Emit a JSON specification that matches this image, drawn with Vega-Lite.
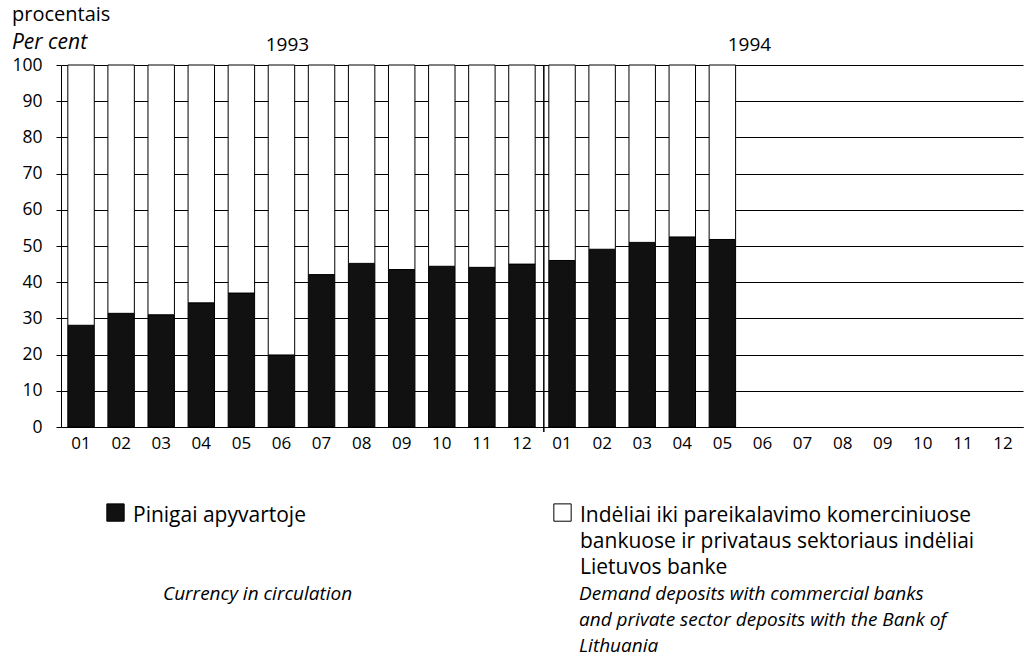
{
  "$schema": "https://vega.github.io/schema/vega-lite/v6.json",
  "width": 962,
  "height": 362,
  "padding": {"left": 11, "top": 5, "right": 2, "bottom": 50},
  "background": "white",
  "config": {
    "view": {"stroke": null},
    "font": "Open Sans",
    "text": {"font": "Open Sans"},
    "style": {"guide-label": {"lineHeight": 26}},
    "axisY": {
      "tickCount": 10,
      "grid": true,
      "gridColor": "black",
      "gridWidth": 1,
      "gridOpacity": 1,
      "domainColor": "black",
      "tickColor": "black",
      "tickSize": 5,
      "labelColor": "black",
      "labelFontSize": 17.5,
      "labelFont": "Open Sans",
      "labelPadding": 14
    }
  },
  "title": {
    "text": "procentais",
    "subtitle": "Per cent",
    "anchor": "start",
    "frame": "bounds",
    "font": "Open Sans",
    "fontSize": 20,
    "fontWeight": "normal",
    "color": "black",
    "subtitleFont": "Open Sans",
    "subtitleFontSize": 21,
    "subtitleFontStyle": "italic",
    "subtitleColor": "black",
    "subtitlePadding": 7,
    "offset": -17
  },
  "data": {
    "values": [
      {"m": "1993-01", "series": "Pinigai apyvartoje", "en": "Currency in circulation", "v": 28.1},
      {"m": "1993-02", "series": "Pinigai apyvartoje", "en": "Currency in circulation", "v": 31.4},
      {"m": "1993-03", "series": "Pinigai apyvartoje", "en": "Currency in circulation", "v": 31.0},
      {"m": "1993-04", "series": "Pinigai apyvartoje", "en": "Currency in circulation", "v": 34.3},
      {"m": "1993-05", "series": "Pinigai apyvartoje", "en": "Currency in circulation", "v": 37.0},
      {"m": "1993-06", "series": "Pinigai apyvartoje", "en": "Currency in circulation", "v": 19.9},
      {"m": "1993-07", "series": "Pinigai apyvartoje", "en": "Currency in circulation", "v": 42.1},
      {"m": "1993-08", "series": "Pinigai apyvartoje", "en": "Currency in circulation", "v": 45.2},
      {"m": "1993-09", "series": "Pinigai apyvartoje", "en": "Currency in circulation", "v": 43.5},
      {"m": "1993-10", "series": "Pinigai apyvartoje", "en": "Currency in circulation", "v": 44.4},
      {"m": "1993-11", "series": "Pinigai apyvartoje", "en": "Currency in circulation", "v": 44.1},
      {"m": "1993-12", "series": "Pinigai apyvartoje", "en": "Currency in circulation", "v": 45.0},
      {"m": "1994-01", "series": "Pinigai apyvartoje", "en": "Currency in circulation", "v": 46.0},
      {"m": "1994-02", "series": "Pinigai apyvartoje", "en": "Currency in circulation", "v": 49.1},
      {"m": "1994-03", "series": "Pinigai apyvartoje", "en": "Currency in circulation", "v": 51.0},
      {"m": "1994-04", "series": "Pinigai apyvartoje", "en": "Currency in circulation", "v": 52.5},
      {"m": "1994-05", "series": "Pinigai apyvartoje", "en": "Currency in circulation", "v": 51.8},
      {"m": "1993-01", "series": "Indėliai", "en": "Demand deposits", "v": 71.9},
      {"m": "1993-02", "series": "Indėliai", "en": "Demand deposits", "v": 68.6},
      {"m": "1993-03", "series": "Indėliai", "en": "Demand deposits", "v": 69.0},
      {"m": "1993-04", "series": "Indėliai", "en": "Demand deposits", "v": 65.7},
      {"m": "1993-05", "series": "Indėliai", "en": "Demand deposits", "v": 63.0},
      {"m": "1993-06", "series": "Indėliai", "en": "Demand deposits", "v": 80.1},
      {"m": "1993-07", "series": "Indėliai", "en": "Demand deposits", "v": 57.9},
      {"m": "1993-08", "series": "Indėliai", "en": "Demand deposits", "v": 54.8},
      {"m": "1993-09", "series": "Indėliai", "en": "Demand deposits", "v": 56.5},
      {"m": "1993-10", "series": "Indėliai", "en": "Demand deposits", "v": 55.6},
      {"m": "1993-11", "series": "Indėliai", "en": "Demand deposits", "v": 55.9},
      {"m": "1993-12", "series": "Indėliai", "en": "Demand deposits", "v": 55.0},
      {"m": "1994-01", "series": "Indėliai", "en": "Demand deposits", "v": 54.0},
      {"m": "1994-02", "series": "Indėliai", "en": "Demand deposits", "v": 50.9},
      {"m": "1994-03", "series": "Indėliai", "en": "Demand deposits", "v": 49.0},
      {"m": "1994-04", "series": "Indėliai", "en": "Demand deposits", "v": 47.5},
      {"m": "1994-05", "series": "Indėliai", "en": "Demand deposits", "v": 48.2}
    ]
  },
  "encoding": {
    "x": {
      "field": "m",
      "type": "ordinal",
      "scale": {
        "domain": ["1993-01","1993-02","1993-03","1993-04","1993-05","1993-06","1993-07","1993-08","1993-09","1993-10","1993-11","1993-12","1994-01","1994-02","1994-03","1994-04","1994-05","1994-06","1994-07","1994-08","1994-09","1994-10","1994-11","1994-12"],
        "paddingInner": 0.34,
        "paddingOuter": 0.17
      },
      "axis": {
        "title": null,
        "labelExpr": "substring(datum.value, 5)",
        "labelAngle": 0,
        "ticks": false,
        "domainColor": "black",
        "domainWidth": 1,
        "labelColor": "black",
        "labelFontSize": 17,
        "labelFont": "Open Sans",
        "labelPadding": 8,
        "grid": false
      }
    }
  },
  "layer": [
    {
      "mark": {"type": "bar", "stroke": "black", "strokeWidth": 1},
      "encoding": {
        "y": {
          "field": "v",
          "type": "quantitative",
          "stack": "zero",
          "scale": {"domain": [0, 100], "nice": false},
          "axis": {"title": null}
        },
        "fill": {
          "field": "series",
          "type": "nominal",
          "scale": {"domain": ["Pinigai apyvartoje", "Indėliai"], "range": ["#111111", "#ffffff"]},
          "legend": {
            "orient": "none",
            "legendX": 44,
            "legendY": 429,
            "direction": "horizontal",
            "columns": 2,
            "columnPadding": 245,
            "padding": 0,
            "title": null,
            "symbolType": "M-1,-0.1L1,-0.1L1,1.9L-1,1.9Z",
            "symbolSize": 300,
            "symbolStrokeColor": "black",
            "symbolStrokeWidth": 1,
            "labelFont": "Open Sans",
            "labelFontSize": 21,
            "labelColor": "black",
            "labelLimit": 0,
            "labelOffset": 7,
            "labelBaseline": "top",
            "labelExpr": "datum.label == 'Indėliai' ? ['Indėliai iki pareikalavimo komerciniuose', 'bankuose ir privataus sektoriaus indėliai', 'Lietuvos banke'] : ['Pinigai apyvartoje', '', '']"
          }
        },
        "order": {"field": "series", "sort": "descending"}
      }
    },
    {
      "mark": {"type": "point", "opacity": 0},
      "encoding": {
        "y": {"datum": 0},
        "shape": {
          "field": "en",
          "type": "nominal",
          "scale": {"domain": ["Currency in circulation", "Demand deposits"]},
          "legend": {
            "orient": "none",
            "legendX": 83,
            "legendY": 510,
            "direction": "horizontal",
            "columns": 2,
            "columnPadding": 207,
            "padding": 0,
            "title": null,
            "symbolOpacity": 0,
            "symbolSize": 4,
            "labelFont": "Open Sans",
            "labelFontSize": 19,
            "labelFontStyle": "italic",
            "labelColor": "black",
            "labelLimit": 0,
            "labelOffset": 0,
            "labelBaseline": "top",
            "labelExpr": "datum.label == 'Demand deposits' ? ['Demand deposits with commercial banks', 'and private sector deposits with the Bank of', 'Lithuania'] : ['Currency in circulation', '', '']"
          }
        }
      }
    },
    {
      "data": {"values": [{}]},
      "mark": {"type": "rule", "color": "black", "strokeWidth": 1.5, "xOffset": -5, "y2Offset": 5},
      "encoding": {
        "x": {"datum": "1994-01", "bandPosition": 0},
        "y": {"datum": 100},
        "y2": {"datum": 0}
      }
    },
    {
      "data": {"values": [{}]},
      "mark": {"type": "text", "fontSize": 19, "font": "Open Sans", "color": "black", "dx": 6, "dy": -20, "baseline": "middle"},
      "encoding": {
        "x": {"datum": "1993-06"},
        "y": {"datum": 100},
        "text": {"value": "1993"}
      }
    },
    {
      "data": {"values": [{}]},
      "mark": {"type": "text", "fontSize": 19, "font": "Open Sans", "color": "black", "dx": -13, "dy": -20, "baseline": "middle"},
      "encoding": {
        "x": {"datum": "1994-06"},
        "y": {"datum": 100},
        "text": {"value": "1994"}
      }
    }
  ]
}
